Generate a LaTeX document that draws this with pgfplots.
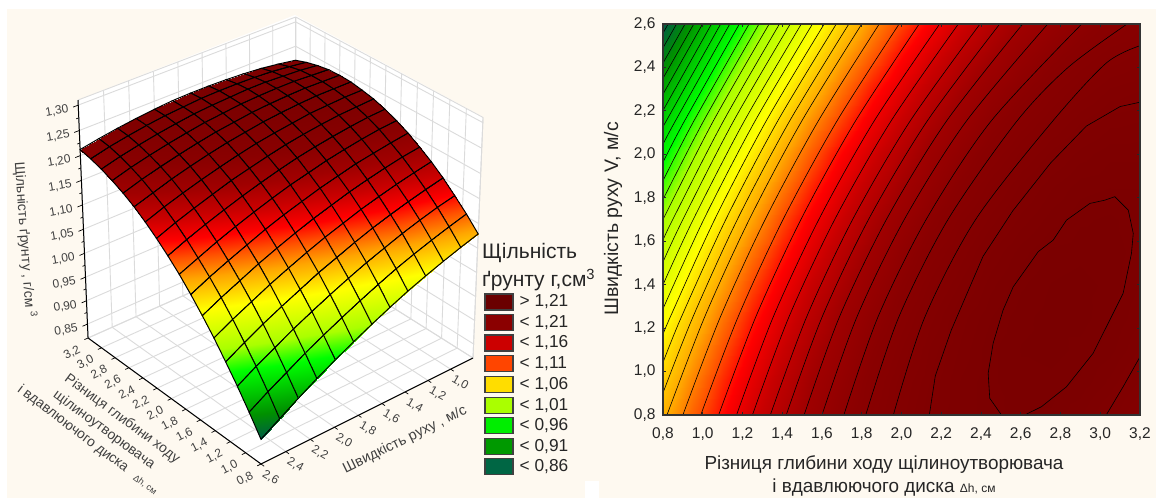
\documentclass[border=0pt]{standalone}
\usepackage{fontspec}
\setmainfont{Liberation Sans}
\usepackage{pgfplots}
\usepackage{pgfplotstable}
\pgfplotsset{compat=1.18}
\definecolor{bgc}{HTML}{FEF9F0}
\pgfplotstableread{
x V rho
0.8 0.8 1.079
0.95 0.8 1.105
1.1 0.8 1.128
1.25 0.8 1.150
1.4 0.8 1.169
1.55 0.8 1.185
1.7 0.8 1.200
1.85 0.8 1.212
2 0.8 1.222
2.15 0.8 1.230
2.3 0.8 1.235
2.45 0.8 1.239
2.6 0.8 1.240
2.75 0.8 1.239
2.9 0.8 1.235
3.05 0.8 1.229
3.2 0.8 1.221
0.8 0.95 1.068
0.95 0.95 1.095
1.1 0.95 1.120
1.25 0.95 1.142
1.4 0.95 1.162
1.55 0.95 1.180
1.7 0.95 1.195
1.85 0.95 1.209
2 0.95 1.220
2.15 0.95 1.228
2.3 0.95 1.235
2.45 0.95 1.239
2.6 0.95 1.241
2.75 0.95 1.241
2.9 0.95 1.239
3.05 0.95 1.234
3.2 0.95 1.227
0.8 1.1 1.056
0.95 1.1 1.084
1.1 1.1 1.110
1.25 1.1 1.133
1.4 1.1 1.154
1.55 1.1 1.173
1.7 1.1 1.189
1.85 1.1 1.204
2 1.1 1.216
2.15 1.1 1.226
2.3 1.1 1.233
2.45 1.1 1.239
2.6 1.1 1.242
2.75 1.1 1.243
2.9 1.1 1.241
3.05 1.1 1.238
3.2 1.1 1.232
0.8 1.25 1.043
0.95 1.25 1.072
1.1 1.25 1.099
1.25 1.25 1.123
1.4 1.25 1.145
1.55 1.25 1.165
1.7 1.25 1.183
1.85 1.25 1.198
2 1.25 1.211
2.15 1.25 1.222
2.3 1.25 1.231
2.45 1.25 1.237
2.6 1.25 1.241
2.75 1.25 1.243
2.9 1.25 1.243
3.05 1.25 1.240
3.2 1.25 1.235
0.8 1.4 1.029
0.95 1.4 1.059
1.1 1.4 1.086
1.25 1.4 1.112
1.4 1.4 1.135
1.55 1.4 1.156
1.7 1.4 1.174
1.85 1.4 1.191
2 1.4 1.205
2.15 1.4 1.217
2.3 1.4 1.226
2.45 1.4 1.234
2.6 1.4 1.239
2.75 1.4 1.242
2.9 1.4 1.243
3.05 1.4 1.241
3.2 1.4 1.237
0.8 1.55 1.013
0.95 1.55 1.044
1.1 1.55 1.073
1.25 1.55 1.099
1.4 1.55 1.123
1.55 1.55 1.145
1.7 1.55 1.165
1.85 1.55 1.182
2 1.55 1.198
2.15 1.55 1.211
2.3 1.55 1.221
2.45 1.55 1.230
2.6 1.55 1.236
2.75 1.55 1.240
2.9 1.55 1.241
3.05 1.55 1.241
3.2 1.55 1.238
0.8 1.7 0.996
0.95 1.7 1.028
1.1 1.7 1.058
1.25 1.7 1.085
1.4 1.7 1.111
1.55 1.7 1.134
1.7 1.7 1.154
1.85 1.7 1.173
2 1.7 1.189
2.15 1.7 1.203
2.3 1.7 1.215
2.45 1.7 1.224
2.6 1.7 1.231
2.75 1.7 1.236
2.9 1.7 1.239
3.05 1.7 1.240
3.2 1.7 1.238
0.8 1.85 0.978
0.95 1.85 1.011
1.1 1.85 1.042
1.25 1.85 1.071
1.4 1.85 1.097
1.55 1.85 1.121
1.7 1.85 1.143
1.85 1.85 1.162
2 1.85 1.179
2.15 1.85 1.194
2.3 1.85 1.207
2.45 1.85 1.218
2.6 1.85 1.226
2.75 1.85 1.232
2.9 1.85 1.236
3.05 1.85 1.237
3.2 1.85 1.237
0.8 2 0.959
0.95 2 0.993
1.1 2 1.025
1.25 2 1.054
1.4 2 1.082
1.55 2 1.107
1.7 2 1.130
1.85 2 1.150
2 2 1.168
2.15 2 1.185
2.3 2 1.198
2.45 2 1.210
2.6 2 1.219
2.75 2 1.226
2.9 2 1.231
3.05 2 1.234
3.2 2 1.234
0.8 2.15 0.939
0.95 2.15 0.974
1.1 2.15 1.007
1.25 2.15 1.037
1.4 2.15 1.066
1.55 2.15 1.092
1.7 2.15 1.115
1.85 2.15 1.137
2 2.15 1.156
2.15 2.15 1.173
2.3 2.15 1.188
2.45 2.15 1.201
2.6 2.15 1.211
2.75 2.15 1.219
2.9 2.15 1.225
3.05 2.15 1.229
3.2 2.15 1.230
0.8 2.3 0.917
0.95 2.3 0.953
1.1 2.3 0.987
1.25 2.3 1.019
1.4 2.3 1.048
1.55 2.3 1.075
1.7 2.3 1.100
1.85 2.3 1.123
2 2.3 1.143
2.15 2.3 1.161
2.3 2.3 1.177
2.45 2.3 1.191
2.6 2.3 1.202
2.75 2.3 1.211
2.9 2.3 1.218
3.05 2.3 1.223
3.2 2.3 1.225
0.8 2.45 0.894
0.95 2.45 0.932
1.1 2.45 0.967
1.25 2.45 0.999
1.4 2.45 1.030
1.55 2.45 1.058
1.7 2.45 1.084
1.85 2.45 1.107
2 2.45 1.129
2.15 2.45 1.148
2.3 2.45 1.165
2.45 2.45 1.179
2.6 2.45 1.192
2.75 2.45 1.202
2.9 2.45 1.210
3.05 2.45 1.216
3.2 2.45 1.219
0.8 2.6 0.871
0.95 2.6 0.909
1.1 2.6 0.945
1.25 2.6 0.978
1.4 2.6 1.010
1.55 2.6 1.039
1.7 2.6 1.066
1.85 2.6 1.091
2 2.6 1.113
2.15 2.6 1.133
2.3 2.6 1.151
2.45 2.6 1.167
2.6 2.6 1.180
2.75 2.6 1.191
2.9 2.6 1.200
3.05 2.6 1.207
3.2 2.6 1.212
}\soil
\pgfplotsset{
  colormap={soilmap}{
    rgb255(0pt)=(0,92,70);
    rgb255(33pt)=(0,144,0);
    rgb255(93pt)=(0,255,0);
    rgb255(124pt)=(170,255,0);
    rgb255(175pt)=(255,255,0);
    rgb255(213pt)=(255,165,0);
    rgb255(238pt)=(255,80,0);
    rgb255(258pt)=(255,0,0);
    rgb255(283pt)=(200,0,0);
    rgb255(308pt)=(160,0,0);
    rgb255(333pt)=(138,0,0);
    rgb255(371pt)=(122,0,0)
  },
  cl/.style={black,line width=0.6pt,no marks,smooth},
  cj/.style={black,line width=0.6pt,no marks}
}
\makeatletter
\newcommand\perspectiveon{%
  \def\pgfplotsqpointxyz##1##2##3{%
    \begingroup
    \pgfmathparse{(##1-0.8)/2.4}\let\ps\pgfmathresult
    \pgfmathparse{(2.6-##2)/1.8}\let\pt\pgfmathresult
    \pgfmathparse{(##3-0.82)/0.49}\let\pw\pgfmathresult
    \pgfmathparse{1+0.077*\ps+0.0615*\pt-0.053*\pw}\let\pd\pgfmathresult
    \pgfmathparse{(-186.3*\ps+225*\pt-1.1*\pw)/\pd}\global\pgf@x=\pgfmathresult pt
    \pgfmathparse{(135.7*\ps+112.5*\pt+237*\pw)/\pd}\global\pgf@y=\pgfmathresult pt
    \endgroup
  }%
}
\makeatother
\newcommand\sz[1]{\fontsize{#1}{#1}\selectfont}
\newcommand\legitem[3]{%
  \definecolor{legc}{HTML}{#2}%
  \fill[fill=legc,draw=black!75,line width=1.2pt] (485,#1-8) rectangle (513,#1+8);
  \node[anchor=west,font=\sz{17.3},text=black!85,inner sep=0pt] at (519.5,#1) {#3};
}
\begin{document}
\begin{tikzpicture}[x=1pt,y=1pt]
\path[use as bounding box] (0,0) rectangle (1156,498);
\fill[bgc] (7,0) rectangle (1156,489);
\fill[white] (585,0) rectangle (599,17);
% white walls and floor of the box
\fill[white] (261,34) -- (88,160) -- (78,398) -- (295,483) -- (483,381) -- (473,140) -- cycle;
\begin{scope}
\perspectiveon
\begin{axis}[
  at={(473pt,140pt)},anchor=origin,
  disabledatascaling,
  x={(-72pt,52.5pt)},y={(-118pt,-59pt)},z={(0pt,486pt)},
  xmin=0.8,xmax=3.2,ymin=0.8,ymax=2.6,zmin=0.82,zmax=1.31,
  clip=false,
  colormap name=soilmap,
  point meta min=0.871,point meta max=1.243,
  unbounded coords=jump,
  xtick={0.8,1,1.2,1.4,1.6,1.8,2,2.2,2.4,2.6,2.8,3,3.2},
  ytick={0.8,1,1.2,1.4,1.6,1.8,2,2.2,2.4,2.6},
  yticklabels={,{1,0},{1,2},{1,4},{1,6},{1,8},{2,0},{2,2},{2,4},{2,6}},
  ztick={0.85,0.9,0.95,1,1.05,1.1,1.15,1.2,1.25,1.3},
  grid=major,
  grid style={gray!28,line width=0.9pt},
  axis line style={gray!28,line width=0.9pt},
  tick style={draw=none},
  major tick length=0pt,
  scaled ticks=false,
  ticklabel style={font=\sz{12},text=black!75,/pgf/number format/assume math mode=true,/pgf/number format/use comma,/pgf/number format/fixed,/pgf/number format/fixed zerofill},
  xticklabel style={/pgf/number format/precision=1,rotate=27,anchor=center,xshift=-21pt,yshift=-6pt},
  yticklabel style={rotate=-30,anchor=center,xshift=15pt,yshift=-7pt},
  zticklabel style={/pgf/number format/precision=2,rotate=10,anchor=center,xshift=-22pt,yshift=-2pt},
]
\addplot3[surf,shader=faceted interp,faceted color=black,line width=1pt,mesh/rows=13,mesh/cols=17] table[x=x,y=V,z=rho] {\soil};
\addplot3[black,line width=1pt,no marks] coordinates {(3.2,2.6,1.31) (3.2,2.6,0.82) (0.8,2.6,0.82) (0.8,0.8,0.82)};
% tick marks on the three near edges of the box
\addplot3[black,line width=0.7pt,no marks] coordinates {
(0.8,2.6,0.82)(0.8,2.63,0.82) (nan,nan,nan)
(1,2.6,0.82)(1,2.63,0.82) (nan,nan,nan)
(1.2,2.6,0.82)(1.2,2.63,0.82) (nan,nan,nan)
(1.4,2.6,0.82)(1.4,2.63,0.82) (nan,nan,nan)
(1.6,2.6,0.82)(1.6,2.63,0.82) (nan,nan,nan)
(1.8,2.6,0.82)(1.8,2.63,0.82) (nan,nan,nan)
(2,2.6,0.82)(2,2.63,0.82) (nan,nan,nan)
(2.2,2.6,0.82)(2.2,2.63,0.82) (nan,nan,nan)
(2.4,2.6,0.82)(2.4,2.63,0.82) (nan,nan,nan)
(2.6,2.6,0.82)(2.6,2.63,0.82) (nan,nan,nan)
(2.8,2.6,0.82)(2.8,2.63,0.82) (nan,nan,nan)
(3,2.6,0.82)(3,2.63,0.82) (nan,nan,nan)
(3.2,2.6,0.82)(3.2,2.63,0.82) (nan,nan,nan)
(0.8,2.6,0.82)(0.76,2.6,0.82) (nan,nan,nan)
(0.8,2.4,0.82)(0.76,2.4,0.82) (nan,nan,nan)
(0.8,2.2,0.82)(0.76,2.2,0.82) (nan,nan,nan)
(0.8,2,0.82)(0.76,2,0.82) (nan,nan,nan)
(0.8,1.8,0.82)(0.76,1.8,0.82) (nan,nan,nan)
(0.8,1.6,0.82)(0.76,1.6,0.82) (nan,nan,nan)
(0.8,1.4,0.82)(0.76,1.4,0.82) (nan,nan,nan)
(0.8,1.2,0.82)(0.76,1.2,0.82) (nan,nan,nan)
(0.8,1,0.82)(0.76,1,0.82) (nan,nan,nan)
(3.2,2.6,0.85)(3.2,2.64,0.85) (nan,nan,nan)
(3.2,2.6,0.9)(3.2,2.64,0.9) (nan,nan,nan)
(3.2,2.6,0.95)(3.2,2.64,0.95) (nan,nan,nan)
(3.2,2.6,1)(3.2,2.64,1) (nan,nan,nan)
(3.2,2.6,1.05)(3.2,2.64,1.05) (nan,nan,nan)
(3.2,2.6,1.1)(3.2,2.64,1.1) (nan,nan,nan)
(3.2,2.6,1.15)(3.2,2.64,1.15) (nan,nan,nan)
(3.2,2.6,1.2)(3.2,2.64,1.2) (nan,nan,nan)
(3.2,2.6,1.25)(3.2,2.64,1.25) (nan,nan,nan)
(3.2,2.6,1.3)(3.2,2.64,1.3) (nan,nan,nan)
(3.2,2.6,0.875)(3.2,2.62,0.875) (nan,nan,nan)
(3.2,2.6,0.925)(3.2,2.62,0.925) (nan,nan,nan)
(3.2,2.6,0.975)(3.2,2.62,0.975) (nan,nan,nan)
(3.2,2.6,1.025)(3.2,2.62,1.025) (nan,nan,nan)
(3.2,2.6,1.075)(3.2,2.62,1.075) (nan,nan,nan)
(3.2,2.6,1.125)(3.2,2.62,1.125) (nan,nan,nan)
(3.2,2.6,1.175)(3.2,2.62,1.175) (nan,nan,nan)
(3.2,2.6,1.225)(3.2,2.62,1.225) (nan,nan,nan)
(3.2,2.6,1.275)(3.2,2.62,1.275)
};
\end{axis}
\end{scope}
% titles of the 3D chart
\node[rotate=-86,font=\sz{14},text=black!75] at (25,258) {Щільність ґрунту , г/см \textsuperscript{3}};
\node[rotate=-36.5,font=\sz{14},text=black!75] at (122,79) {Різниця глибини ходу};
\node[rotate=-36.5,font=\sz{14},text=black!75] at (104,68) {щілиноутворювача};
\node[rotate=-37,font=\sz{14},text=black!75] at (73,69) {і вдавлюючого диска};
\node[rotate=-37,font=\sz{9},text=black!75] at (145,13) {Δh, см};
\node[rotate=26,font=\sz{14.5},text=black!75] at (405,58) {Швидкість руху , м/с};
% legend
\node[anchor=west,font=\sz{21},text=black!85,inner sep=0pt] at (482,245) {Щільність};
\node[anchor=west,font=\sz{21},text=black!85,inner sep=0pt] at (482,218) {ґрунту г,см\textsuperscript{3}};
\legitem{196}{6A0000}{> 1,21}
\legitem{175.7}{8B0000}{< 1,21}
\legitem{155}{CC0000}{< 1,16}
\legitem{134.3}{FF4500}{< 1,11}
\legitem{113.3}{FFDD00}{< 1,06}
\legitem{92.7}{AAFF00}{< 1,01}
\legitem{72.3}{00EE00}{< 0,96}
\legitem{51.7}{009900}{< 0,91}
\legitem{31.3}{006644}{< 0,86}
% right chart
\begin{axis}[
  at={(663pt,83pt)},anchor=south west,
  width=477pt,height=391pt,scale only axis,
  xmin=0.8,xmax=3.2,ymin=0.8,ymax=2.6,
  colormap name=soilmap,
  point meta min=0.871,point meta max=1.243,
  xtick={0.8,1,1.2,1.4,1.6,1.8,2,2.2,2.4,2.6,2.8,3,3.2},
  ytick={0.8,1,1.2,1.4,1.6,1.8,2,2.2,2.4,2.6},
  axis on top,
  axis line style={black!80,line width=1.2pt},
  tick style={black!85,line width=0.8pt},
  tick align=inside,
  major tick length=3pt,
  scaled ticks=false,
  ticklabel style={font=\sz{15.5},text=black!85,/pgf/number format/assume math mode=true,/pgf/number format/use comma,/pgf/number format/fixed,/pgf/number format/fixed zerofill,/pgf/number format/precision=1},
  xticklabel shift=9pt,
  yticklabel shift=4pt,
]
\addplot[surf,shader=interp,mesh/rows=13,mesh/cols=17,point meta=\thisrow{rho}] table[x=x,y=V] {\soil};
% contour lines
\addplot[cj] coordinates {(2.503,0.8)(2.444,0.877)(2.436,0.992)(2.461,1.13)(2.511,1.283)(2.562,1.39)(2.688,1.552)(2.763,1.605)(2.83,1.697)(2.948,1.774)(3.023,1.789)(3.073,1.805)(3.141,1.743)(3.166,1.636)(3.157,1.544)(3.115,1.36)(3.073,1.283)(2.964,1.084)(2.83,0.93)(2.704,0.838)(2.62,0.8)};
\addplot[cj] coordinates {(3.03,0.8)(3.115,0.93)(3.2,1.068)};
\addplot[cj] coordinates {(2.14,0.8)(2.17,0.98)(2.25,1.19)(2.41,1.53)(2.56,1.74)(2.75,1.96)(2.93,2.13)(3.1,2.22)(3.2,2.24)};
\addplot[cl] coordinates {(1.959,0.8)(2.117,1.25)(2.373,1.7)(2.758,2.15)(3.03,2.42)(3.2,2.5)};
\addplot[cl] coordinates {(1.82,0.8)(1.986,1.25)(2.234,1.7)(2.578,2.15)(2.838,2.4)(3.135,2.6)};
\addplot[cl] coordinates {(1.71,0.8)(1.881,1.25)(2.124,1.7)(2.448,2.15)(2.907,2.6)};
\addplot[cl] coordinates {(1.6,0.8)(1.775,1.25)(2.014,1.7)(2.324,2.15)(2.736,2.6)};
\addplot[cl] coordinates {(1.51,0.8)(1.687,1.25)(1.924,1.7)(2.224,2.15)(2.61,2.6)};
\addplot[cl] coordinates {(1.42,0.8)(1.6,1.25)(1.834,1.7)(2.127,2.15)(2.494,2.6)};
\addplot[cl] coordinates {(1.34,0.8)(1.522,1.25)(1.754,1.7)(2.041,2.15)(2.395,2.6)};
\addplot[cl] coordinates {(1.25,0.8)(1.433,1.25)(1.664,1.7)(1.945,2.15)(2.286,2.6)};
\addplot[cl] coordinates {(1.17,0.8)(1.354,1.25)(1.584,1.7)(1.86,2.15)(2.192,2.6)};
\addplot[cl] coordinates {(1.08,0.8)(1.266,1.25)(1.494,1.7)(1.766,2.15)(2.089,2.6)};
\addplot[cl] coordinates {(0.99,0.8)(1.177,1.25)(1.404,1.7)(1.673,2.15)(1.988,2.6)};
\addplot[cl] coordinates {(0.9,0.8)(1.088,1.25)(1.314,1.7)(1.579,2.15)(1.888,2.6)};
\addplot[cl] coordinates {(0.82,0.8)(1.009,1.25)(1.234,1.7)(1.496,2.15)(1.8,2.6)};
\addplot[cl] coordinates {(0.8,0.902)(0.95,1.25)(1.174,1.7)(1.435,2.15)(1.735,2.6)};
\addplot[cl] coordinates {(0.8,1.042)(0.892,1.25)(1.116,1.7)(1.375,2.15)(1.672,2.6)};
\addplot[cl] coordinates {(0.8,1.17)(0.836,1.25)(1.06,1.7)(1.317,2.15)(1.611,2.6)};
\addplot[cl] coordinates {(0.8,1.289)(1.005,1.7)(1.261,2.15)(1.552,2.6)};
\addplot[cl] coordinates {(0.8,1.4)(0.952,1.7)(1.207,2.15)(1.496,2.6)};
\addplot[cl] coordinates {(0.8,1.505)(0.9,1.7)(1.153,2.15)(1.44,2.6)};
\addplot[cl] coordinates {(0.8,1.605)(0.849,1.7)(1.102,2.15)(1.386,2.6)};
\addplot[cl] coordinates {(0.8,1.7)(1.051,2.15)(1.334,2.6)};
\addplot[cl] coordinates {(0.8,1.792)(1.002,2.15)(1.283,2.6)};
\addplot[cl] coordinates {(0.8,1.879)(0.953,2.15)(1.233,2.6)};
\addplot[cl] coordinates {(0.8,1.964)(0.906,2.15)(1.184,2.6)};
\addplot[cl] coordinates {(0.8,2.046)(0.86,2.15)(1.136,2.6)};
\addplot[cl] coordinates {(0.8,2.125)(0.814,2.15)(1.09,2.6)};
\addplot[cj] coordinates {(0.8,2.202)(1.044,2.6)};
\addplot[cj] coordinates {(0.8,2.277)(0.999,2.6)};
\addplot[cj] coordinates {(0.8,2.35)(0.955,2.6)};
\addplot[cj] coordinates {(0.8,2.42)(0.911,2.6)};
\addplot[cj] coordinates {(0.8,2.49)(0.868,2.6)};
\addplot[cj] coordinates {(0.8,2.558)(0.826,2.6)};
\end{axis}
\node[rotate=90,font=\sz{19.5},text=black!85] at (613,279) {Швидкість руху V, м/с};
\node[font=\sz{18.9},text=black!85] at (884,33) {Різниця глибини ходу щілиноутворювача};
\node[font=\sz{18.9},text=black!85] at (884,10) {і вдавлюючого диска {\sz{12}Δh, см}};
\end{tikzpicture}
\end{document}
